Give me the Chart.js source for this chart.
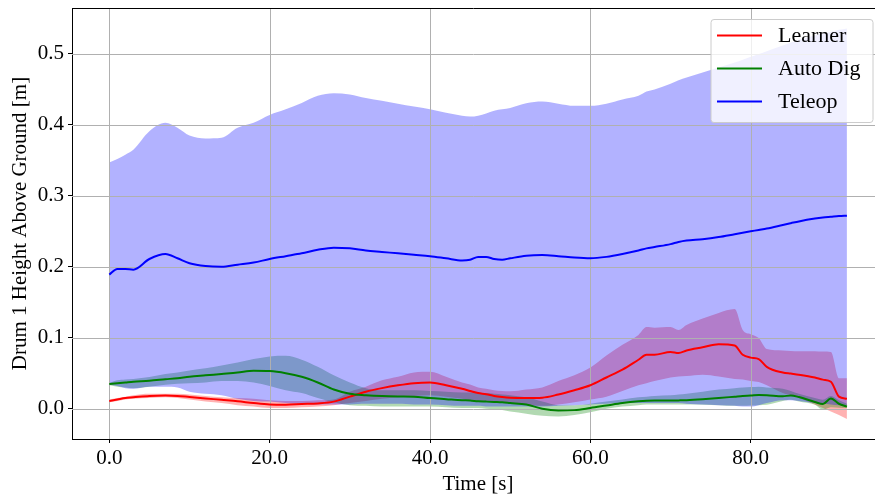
<!DOCTYPE html>
<html><head><meta charset="utf-8">
<script src="https://cdn.jsdelivr.net/npm/chart.js@4.4.1/dist/chart.umd.min.js"></script>
<style>html,body{margin:0;padding:0;background:#fff;overflow:hidden}</style>
</head><body>
<canvas id="c" width="875" height="495"></canvas>
<script>
// ---- data ----
const timeS = [0,1,2,3,5,7,8.5,10,12,14,16,18,20,22,24,26,28,30,32,34,36,38,40,42,44,45,46,47,48,49,50,52,54,56,58,60,62,64,66,67,68,70,71,72,74,76,78,79,80,81,82,84,85,86,88,89,90,91,92];

const learnerMean = [0.011,0.013,0.015,0.016,0.018,0.0185,0.018,0.0165,0.0145,0.0125,0.0105,0.008,0.006,0.0056,0.0066,0.0075,0.010,0.017,0.024,0.029,0.033,0.036,0.037,0.033,0.028,0.025,0.022,0.0205,0.018,0.0165,0.0155,0.015,0.0155,0.020,0.026,0.033,0.044,0.055,0.069,0.076,0.076,0.080,0.0785,0.082,0.0865,0.091,0.089,0.076,0.072,0.070,0.059,0.051,0.0495,0.048,0.044,0.041,0.038,0.017,0.014];
const learnerUpper = [0.013,0.015,0.017,0.019,0.021,0.021,0.021,0.020,0.018,0.016,0.015,0.014,0.012,0.011,0.011,0.012,0.013,0.024,0.031,0.040,0.045,0.051,0.052,0.045,0.037,0.034,0.030,0.028,0.026,0.025,0.0245,0.027,0.030,0.039,0.047,0.058,0.075,0.090,0.104,0.115,0.114,0.115,0.111,0.118,0.127,0.135,0.1405,0.111,0.105,0.0995,0.084,0.082,0.0815,0.081,0.081,0.0805,0.080,0.043,0.043];
const learnerLower = [0.009,0.011,0.013,0.014,0.015,0.016,0.015,0.013,0.010,0.008,0.005,0.003,0.001,0.001,0.002,0.003,0.005,0.008,0.011,0.014,0.016,0.018,0.019,0.017,0.014,0.012,0.011,0.010,0.009,0.0085,0.008,0.006,0.004,0.006,0.009,0.013,0.017,0.025,0.033,0.036,0.039,0.044,0.0455,0.046,0.048,0.0455,0.042,0.041,0.039,0.0375,0.033,0.022,0.019,0.015,0.006,0.001,-0.004,-0.009,-0.0145];

const autoDigMean = [0.0348,0.036,0.037,0.038,0.0394,0.0415,0.043,0.045,0.047,0.049,0.051,0.0535,0.053,0.050,0.045,0.037,0.027,0.021,0.019,0.0178,0.0173,0.017,0.015,0.0135,0.012,0.0115,0.0105,0.010,0.0095,0.009,0.008,0.006,0.000,-0.0024,-0.002,0.001,0.0045,0.008,0.0105,0.0113,0.0115,0.0115,0.0117,0.012,0.0133,0.015,0.017,0.018,0.0185,0.0193,0.019,0.0175,0.0187,0.0165,0.0095,0.0066,0.0145,0.007,0.003];
const autoDigUpper = [0.036,0.040,0.041,0.042,0.0446,0.049,0.051,0.054,0.057,0.061,0.065,0.070,0.0737,0.0746,0.069,0.059,0.047,0.037,0.029,0.026,0.026,0.026,0.025,0.024,0.023,0.023,0.022,0.022,0.021,0.020,0.019,0.016,0.010,0.005,0.005,0.007,0.010,0.013,0.016,0.017,0.018,0.019,0.020,0.021,0.024,0.027,0.029,0.030,0.0305,0.031,0.030,0.028,0.025,0.021,0.015,0.0127,0.018,0.012,0.007];
const autoDigLower = [0.033,0.031,0.030,0.029,0.031,0.0338,0.035,0.036,0.037,0.039,0.039,0.037,0.032,0.026,0.022,0.015,0.009,0.005,0.004,0.003,0.003,0.003,0.003,0.002,0.001,0.001,0.001,0.000,-0.001,-0.002,-0.004,-0.007,-0.010,-0.011,-0.009,-0.005,0.000,0.003,0.005,0.006,0.006,0.006,0.006,0.006,0.0056,0.005,0.004,0.004,0.0045,0.005,0.0056,0.011,0.0127,0.010,0.0056,-0.0014,0.002,0.0015,0.001];

const teleopMean = [0.189,0.197,0.197,0.196,0.211,0.218,0.212,0.205,0.201,0.200,0.203,0.206,0.211,0.215,0.219,0.224,0.227,0.226,0.223,0.221,0.219,0.217,0.215,0.212,0.209,0.210,0.214,0.214,0.211,0.210,0.212,0.2155,0.2165,0.215,0.213,0.212,0.214,0.218,0.223,0.226,0.228,0.232,0.235,0.237,0.239,0.242,0.246,0.248,0.250,0.252,0.254,0.259,0.2615,0.264,0.268,0.2695,0.2705,0.2715,0.272];
const teleopUpper = [0.347,0.352,0.358,0.365,0.391,0.403,0.396,0.385,0.381,0.382,0.396,0.403,0.414,0.422,0.431,0.441,0.4446,0.443,0.438,0.434,0.430,0.426,0.422,0.417,0.413,0.4117,0.413,0.416,0.420,0.422,0.424,0.4306,0.433,0.430,0.427,0.427,0.430,0.436,0.441,0.447,0.450,0.458,0.463,0.467,0.474,0.481,0.488,0.492,0.496,0.500,0.504,0.512,0.516,0.520,0.526,0.529,0.531,0.534,0.536];
const teleopLower = [0.034,0.032,0.029,0.028,0.031,0.031,0.030,0.024,0.021,0.019,0.014,0.011,0.010,0.008,0.007,0.006,0.006,0.006,0.007,0.007,0.007,0.006,0.006,0.005,0.004,0.004,0.004,0.003,0.003,0.003,0.003,0.003,0.003,0.004,0.005,0.006,0.007,0.008,0.008,0.008,0.008,0.008,0.008,0.007,0.006,0.005,0.004,0.003,0.003,0.005,0.008,0.012,0.012,0.011,0.008,0.007,0.006,0.005,0.005];

const seriesNames = ['Learner','Auto Dig','Teleop'];
const seriesColors = ['#ff0000','#008000','#0000ff'];
const bandColors = ['rgba(255,0,0,0.3)','rgba(0,128,0,0.3)','rgba(0,0,255,0.3)'];
const xTickValues = [0,20,40,60,80];
const yTickValues = [0.0,0.1,0.2,0.3,0.4,0.5];
const xTitle = 'Time [s]';
const yTitle = 'Drum 1 Height Above Ground [m]';

// ---- build datasets ----
const pts = arr => timeS.map((t,i)=>({x:t,y:arr[i]}));
const means = [learnerMean, autoDigMean, teleopMean];
const uppers = [learnerUpper, autoDigUpper, teleopUpper];
const lowers = [learnerLower, autoDigLower, teleopLower];

const datasets = [];
for (let s=0;s<3;s++){
  const ord = 30 - s*10;
  datasets.push({label:seriesNames[s]+' upper', data:pts(uppers[s]), borderWidth:0, pointRadius:0,
    backgroundColor:bandColors[s], fill:'+1', order:ord, cubicInterpolationMode:'monotone'});
  datasets.push({label:seriesNames[s]+' lower', data:pts(lowers[s]), borderWidth:0, pointRadius:0,
    backgroundColor:'rgba(0,0,0,0)', fill:false, order:ord, cubicInterpolationMode:'monotone'});
}
const lineOrders = [-1,-2,-3];
for (let s=0;s<3;s++){
  datasets.push({label:seriesNames[s], data:pts(means[s]), borderColor:seriesColors[s], borderWidth:2,
    pointRadius:0, fill:false, order:lineOrders[s], cubicInterpolationMode:'monotone'});
}

const FONT = '"Liberation Serif", "Times New Roman", serif';
Chart.defaults.font.family = FONT;
Chart.defaults.color = '#000';

// grid over fills (matplotlib draws grid above fill_between patches)
const gridOverPlugin = {
  id:'gridOver',
  beforeDatasetsDraw(chart){
    const {ctx, chartArea:a, scales:{x,y}} = chart;
    ctx.save();
    ctx.strokeStyle = '#b0b0b0'; ctx.lineWidth = 1;
    ctx.beginPath();
    xTickValues.forEach(v=>{ const px=Math.round(x.getPixelForValue(v))+0.5; ctx.moveTo(px,a.top); ctx.lineTo(px,a.bottom); });
    yTickValues.forEach(v=>{ const py=Math.round(y.getPixelForValue(v))+0.5; ctx.moveTo(a.left,py); ctx.lineTo(a.right,py); });
    ctx.stroke();
    ctx.restore();
  }
};

const framePlugin = {
  id:'frameLegend',
  afterDraw(chart){
    const {ctx, chartArea:a, scales:{x}} = chart;
    ctx.save();
    // top spine
    ctx.strokeStyle='#000'; ctx.lineWidth=1;
    ctx.beginPath(); ctx.moveTo(a.left, Math.round(a.top)+0.5); ctx.lineTo(a.right, Math.round(a.top)+0.5); ctx.stroke();
    // axis titles (matplotlib centres them on the full axes, whose right part is cropped)
    ctx.fillStyle='#000';
    ctx.font = '21px ' + FONT; ctx.textAlign='center'; ctx.textBaseline='middle';
    const axesRight = x.getPixelForValue(96.6);
    ctx.fillText(xTitle, (a.left+axesRight)/2, 484);
    ctx.save();
    ctx.translate(20, (a.top+a.bottom)/2); ctx.rotate(-Math.PI/2);
    ctx.font = '21px ' + FONT;
    ctx.fillText(yTitle, 0, 0);
    ctx.restore();
    // legend box
    const bx=711, by=19.5, bw=162, bh=103, r=3;
    ctx.beginPath();
    ctx.moveTo(bx+r,by); ctx.lineTo(bx+bw-r,by); ctx.arcTo(bx+bw,by,bx+bw,by+r,r);
    ctx.lineTo(bx+bw,by+bh-r); ctx.arcTo(bx+bw,by+bh,bx+bw-r,by+bh,r);
    ctx.lineTo(bx+r,by+bh); ctx.arcTo(bx,by+bh,bx,by+bh-r,r);
    ctx.lineTo(bx,by+r); ctx.arcTo(bx,by,bx+r,by,r); ctx.closePath();
    ctx.fillStyle='rgba(255,255,255,0.8)'; ctx.fill();
    ctx.strokeStyle='rgba(204,204,204,1)'; ctx.lineWidth=1; ctx.stroke();
    ctx.font = '22px ' + FONT;
    ctx.textBaseline='middle'; ctx.textAlign='left';
    seriesNames.forEach((n,i)=>{
      const ly = 35.5 + i*33;
      ctx.strokeStyle=seriesColors[i]; ctx.lineWidth=2;
      ctx.beginPath(); ctx.moveTo(717,ly); ctx.lineTo(762,ly); ctx.stroke();
      ctx.fillStyle='#000'; ctx.fillText(n, 778, ly+1);
    });
    ctx.restore();
  }
};

new Chart(document.getElementById('c'), {
  type:'line',
  data:{datasets},
  options:{
    responsive:false, animation:false, devicePixelRatio:1,
    layout:{padding:{top:8,right:0,bottom:0,left:0}},
    plugins:{legend:{display:false}, tooltip:{enabled:false}, filler:{drawTime:'beforeDatasetsDraw'}},
    scales:{
      x:{type:'linear', min:-4.65, max:95.5, position:'bottom',
        afterBuildTicks(s){ s.ticks = xTickValues.map(v=>({value:v})); },
        ticks:{callback:v=>Number(v).toFixed(1), font:{size:21}, color:'#000', padding:3, maxRotation:0, autoSkip:false},
        grid:{color:'rgba(0,0,0,0)', tickColor:'#000', tickLength:4, lineWidth:1},
        border:{display:true, color:'#000', width:1},
        title:{display:false},
        afterFit(s){ s.height = 56; s.paddingLeft = 0; s.paddingRight = 0; }
      },
      y:{type:'linear', min:-0.0427, max:0.5648, position:'left',
        afterBuildTicks(s){ s.ticks = yTickValues.map(v=>({value:v})); },
        ticks:{callback:v=>Number(v).toFixed(1), font:{size:21}, color:'#000', padding:4, autoSkip:false},
        grid:{color:'rgba(0,0,0,0)', tickColor:'#000', tickLength:4, lineWidth:1},
        border:{display:true, color:'#000', width:1},
        title:{display:false},
        afterFit(s){ s.width = 72; s.paddingTop = 0; s.paddingBottom = 0; }
      }
    }
  },
  plugins:[gridOverPlugin, framePlugin]
});
</script>
</body></html>
